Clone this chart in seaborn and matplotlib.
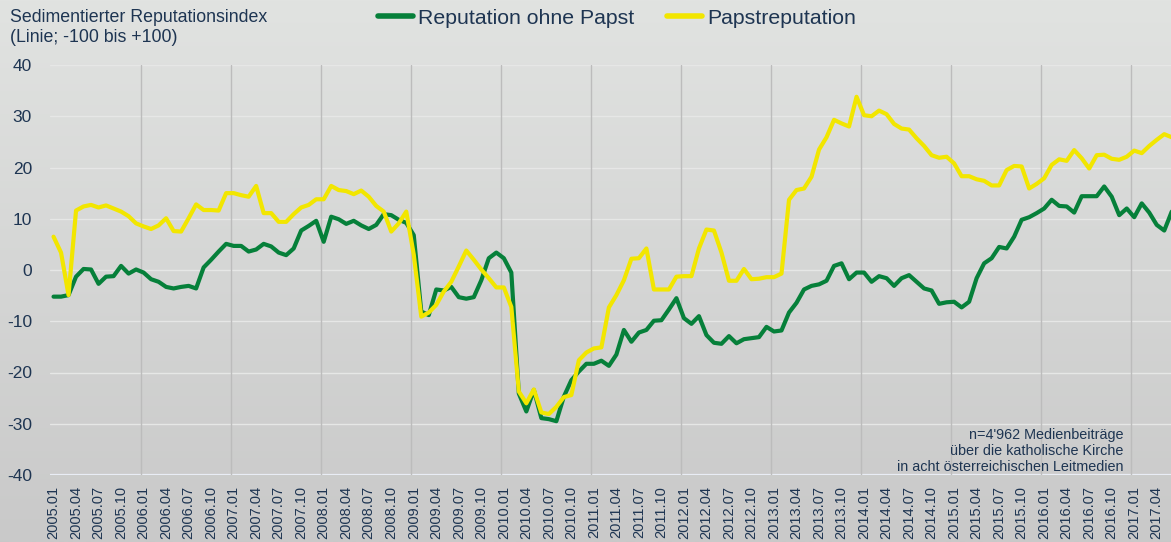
import numpy as np
import pandas as pd
import matplotlib
matplotlib.use("Agg")
import matplotlib.pyplot as plt
from matplotlib.colors import LinearSegmentedColormap
import seaborn as sns

# monthly values 2005.01 - 2017.06
ohne_papst = [
    -5.2, -5.2, -4.9, -1.3, 0.2, 0.1, -2.7, -1.3, -1.2, 0.8, -0.7, 0.1, -0.5, -1.8, -2.3, -3.3, -3.6, -3.3, -3.1, -3.6, 0.5, 2.0, 3.6, 5.1, 4.7,
    4.7, 3.6, 4.0, 5.1, 4.6, 3.4, 2.9, 4.2, 7.7, 8.6, 9.6, 5.5, 10.4, 9.9, 9.0, 9.6, 8.7, 8.0, 8.8, 10.9, 10.7, 9.8, 9.2, 6.8, -8.1,
    -8.8, -3.8, -4.0, -3.3, -5.3, -5.6, -5.3, -2.0, 2.3, 3.4, 2.3, -0.5, -24.1, -27.6, -23.4, -28.9, -29.1, -29.5, -24.7, -21.5, -19.8, -18.3, -18.3, -17.7, -18.7,
    -16.5, -11.7, -14.0, -12.2, -11.7, -9.9, -9.8, -7.7, -5.5, -9.4, -10.5, -9.0, -12.7, -14.2, -14.4, -12.9, -14.3, -13.5, -13.3, -13.1, -11.1, -12.0, -11.8, -8.3, -6.4,
    -3.8, -3.1, -2.8, -2.1, 0.8, 1.3, -1.8, -0.5, -0.5, -2.3, -1.2, -1.6, -3.1, -1.6, -1.0, -2.3, -3.6, -4.0, -6.6, -6.3, -6.2, -7.3, -6.2, -1.6, 1.3,
    2.3, 4.5, 4.2, 6.5, 9.8, 10.3, 11.1, 12.0, 13.7, 12.5, 12.4, 11.2, 14.4, 14.4, 14.4, 16.3, 14.3, 10.7, 12.0, 10.3, 13.0, 11.2, 8.8, 7.7, 11.4,
]
papst = [
    6.5, 3.4, -4.9, 11.6, 12.4, 12.7, 12.2, 12.6, 12.0, 11.4, 10.5, 9.1, 8.5, 8.0, 8.7, 10.1, 7.6, 7.5, 10.1, 12.8, 11.7, 11.7, 11.6, 15.0, 15.0,
    14.6, 14.3, 16.4, 11.1, 11.1, 9.4, 9.4, 10.9, 12.2, 12.7, 13.8, 13.8, 16.4, 15.6, 15.4, 14.8, 15.5, 14.3, 12.5, 11.4, 7.5, 9.1, 11.4, 3.0, -9.1,
    -8.3, -6.8, -4.2, -2.3, 0.7, 3.8, 2.0, 0.1, -1.6, -3.4, -3.4, -7.2, -23.7, -26.0, -23.3, -27.8, -28.1, -26.7, -24.8, -24.4, -17.6, -16.1, -15.3, -15.1, -7.3,
    -4.9, -2.0, 2.2, 2.3, 4.2, -3.8, -3.8, -3.8, -1.3, -1.2, -1.2, 4.2, 7.9, 7.7, 3.4, -2.1, -2.1, 0.2, -1.8, -1.7, -1.4, -1.4, -0.7, 13.7, 15.6,
    15.9, 18.2, 23.5, 25.9, 29.3, 28.6, 28.0, 33.8, 30.2, 30.0, 31.1, 30.4, 28.5, 27.6, 27.4, 25.7, 24.2, 22.4, 21.9, 22.1, 20.8, 18.3, 18.3, 17.7, 17.4,
    16.5, 16.5, 19.5, 20.3, 20.2, 15.9, 16.8, 17.9, 20.5, 21.6, 21.3, 23.4, 21.8, 19.8, 22.4, 22.5, 21.7, 21.5, 22.1, 23.3, 22.8, 24.2, 25.4, 26.5, 25.9,
]
months = [f"{2005 + k // 12}.{k % 12 + 1:02d}" for k in range(len(papst))]
tick_labels = months[::3]

NAVY = "#1e3552"
GREEN = "#06803a"
YELLOW = "#f2e600"

sns.set_theme(style="white")
plt.rcParams["font.family"] = ["Liberation Sans", "DejaVu Sans"]
plt.rcParams["axes.unicode_minus"] = False

df = pd.DataFrame({
    "idx": list(range(len(months))) * 2,
    "wert": ohne_papst + papst,
    "serie": ["Reputation ohne Papst"] * len(months) + ["Papstreputation"] * len(months),
})

fig = plt.figure(figsize=(11.71, 5.42), dpi=100)

# background gradient
bg = fig.add_axes([0, 0, 1, 1], zorder=-10)
cmap = LinearSegmentedColormap.from_list("bg", ["#e1e3e1", "#c9c9c9"])
bg.imshow(np.linspace(0, 1, 256).reshape(-1, 1), aspect="auto", cmap=cmap, extent=[0, 1, 0, 1])
bg.axis("off")

ax = fig.add_axes([50 / 1171, 1 - 475 / 542, 1 - 50 / 1171, (475 - 65) / 542])
ax.patch.set_alpha(0)

for y in range(-30, 41, 10):
    ax.axhline(y, color="#e6e7e6", lw=1, zorder=0)
ax.axhline(-40, color="#e9edf5", lw=1.6, zorder=0)
for k in range(1, 13):
    ax.axvline(12 * k - 0.4, color="#bcbcbc", lw=1, zorder=0)

sns.lineplot(data=df, x="idx", y="wert", hue="serie",
             palette={"Reputation ohne Papst": GREEN, "Papstreputation": YELLOW},
             linewidth=3, ax=ax, legend=False, zorder=3)

ax.set_xlim(-0.47, 148.9)
ax.set_ylim(-40, 40)
ax.set_yticks(range(-40, 41, 10))
ax.set_xticks(range(0, len(months), 3))
ax.set_xticklabels(tick_labels, rotation=90, fontsize=10.5, color=NAVY)
ax.tick_params(axis="y", labelsize=12.5, colors=NAVY, length=0, pad=13)
ax.tick_params(axis="x", length=0, pad=8)
ax.set_xlabel("")
ax.set_ylabel("")
for s in ax.spines.values():
    s.set_visible(False)

fig.text(10 / 1171, 1 - 9 / 542, "Sedimentierter Reputationsindex\n(Linie; -100 bis +100)",
         ha="left", va="top", fontsize=12.8, color=NAVY, linespacing=1.2)

handles = [plt.Line2D([], [], color=GREEN, lw=4), plt.Line2D([], [], color=YELLOW, lw=4)]
fig.legend(handles, ["Reputation ohne Papst", "Papstreputation"], loc="center",
           bbox_to_anchor=(617 / 1171, 1 - 18 / 542), ncol=2, frameon=False,
           fontsize=15.3, handlelength=1.65, handletextpad=0.25, columnspacing=1.55,
           labelcolor=NAVY)

ax.text(0.9575, 0.115, "n=4'962 Medienbeiträge\nüber die katholische Kirche\nin acht österreichischen Leitmedien",
        transform=ax.transAxes, ha="right", va="top", fontsize=10.4, color=NAVY, linespacing=1.2)

fig.savefig("out.png", dpi=100)
